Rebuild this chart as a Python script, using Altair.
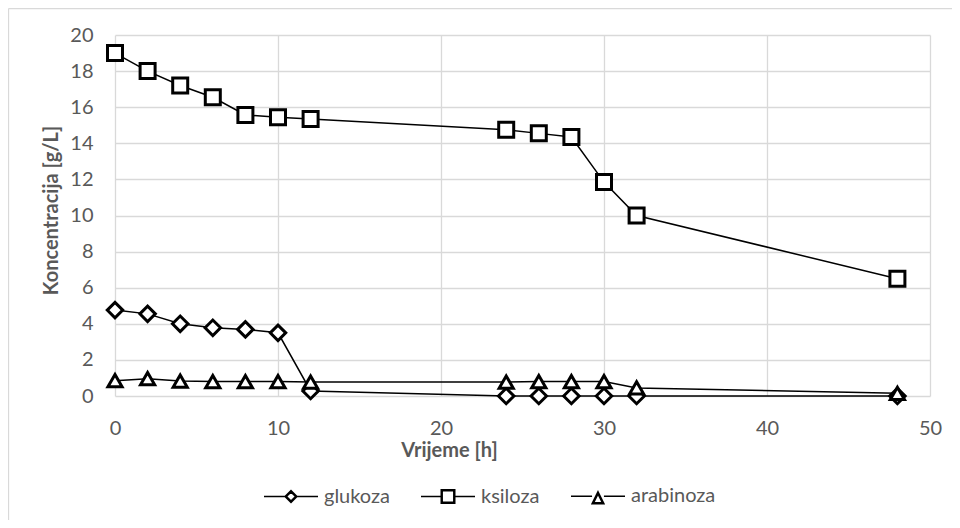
import altair as alt
import pandas as pd

# ---- data ----
vrijeme = [0, 2, 4, 6, 8, 10, 12, 24, 26, 28, 30, 32, 48]
glukoza = [4.76, 4.55, 4.0, 3.78, 3.69, 3.5, 0.28, 0, 0, 0, 0, 0, 0]
ksiloza = [19.0, 18.0, 17.2, 16.55, 15.57, 15.45, 15.35, 14.75, 14.55, 14.35, 11.85, 10.0, 6.5]
arabinoza = [0.85, 0.96, 0.83, 0.8, 0.8, 0.8, 0.77, 0.77, 0.8, 0.8, 0.8, 0.45, 0.15]
serije = ["glukoza", "ksiloza", "arabinoza"]

rows = []
for name, vals in zip(serije, [glukoza, ksiloza, arabinoza]):
    for t, v in zip(vrijeme, vals):
        rows.append({"Vrijeme": t, "Koncentracija": v, "serija": name})
df = pd.DataFrame(rows)

FONT = "Lato"
GRAY = "#595959"
GRID = "#d9d9d9"

x = alt.X("Vrijeme:Q", scale=alt.Scale(domain=[0, 50], nice=False, zero=False),
          axis=alt.Axis(values=[0, 10, 20, 30, 40, 50], title="Vrijeme [h]",
                        labelPadding=22, labelFlush=False,
                        titleX=334, titleY=44, titleBaseline="top"))
y = alt.Y("Koncentracija:Q", scale=alt.Scale(domain=[0, 20], nice=False),
          axis=alt.Axis(values=list(range(0, 21, 2)), title="Koncentracija [g/L]",
                        labelPadding=22, labelFlush=False, titleX=-54, titleY=175))

base = alt.Chart(df)

lines = base.mark_line(color="black", strokeWidth=1.5).encode(
    x=x, y=y, detail="serija:N")

points = base.mark_point(filled=True, fill="white", stroke="black",
                         strokeWidth=3, opacity=1).encode(
    x=x, y=y,
    shape=alt.Shape("serija:N",
                    scale=alt.Scale(domain=serije, range=["diamond", "square", "triangle-up"]),
                    legend=None),
    size=alt.Size("serija:N",
                  scale=alt.Scale(type="ordinal", domain=serije, range=[240, 225, 200]),
                  legend=None),
)

# legend symbols: line segment + marker (double outline for a heavier marker edge)
p_diamond = ("M-1,0H-0.22M0.22,0H1"
             "M-0.22,0L0,-0.22L0.22,0L0,0.22Z"
             "M-0.168,0L0,-0.168L0.168,0L0,0.168Z")
p_square = ("M-1,0H-0.25M0.25,0H1"
            "M-0.25,-0.25H0.25V0.25H-0.25Z"
            "M-0.215,-0.215H0.215V0.215H-0.215Z")
p_tri = ("M-1,0H-0.22M0.22,0H1"
         "M0,-0.17L0.22,0.27L-0.22,0.27Z"
         "M0,-0.087L0.16,0.233L-0.16,0.233Z")

legend_layer = base.mark_point(
    filled=True, fill="white", stroke="black", size=0, opacity=1).encode(
    x=x, y=y,
    shape=alt.Shape("serija:N",
                    scale=alt.Scale(domain=serije, range=[p_diamond, p_square, p_tri]),
                    legend=alt.Legend(title=None, orient="none", legendX=148, legendY=433,
                                      direction="horizontal", symbolSize=2916,
                                      labelFont=FONT, labelFontSize=20, labelColor=GRAY,
                                      columnPadding=28, labelOffset=5, padding=0)),
)

frame = alt.Chart(pd.DataFrame({"k": [0]}))
border_left = frame.mark_rule(color=GRID, strokeWidth=1.3).encode(
    x=alt.value(-106.5), y=alt.value(-26.5), y2=alt.value(600))
border_top = frame.mark_rule(color=GRID, strokeWidth=1.3).encode(
    x=alt.value(-106.5), x2=alt.value(900), y=alt.value(-26.5))

chart = alt.layer(border_left, border_top, lines, legend_layer, points).resolve_scale(
    shape="independent", size="independent"
).properties(
    width=815, height=361,
    padding={"left": 107, "top": 27, "right": 22, "bottom": 124},
    autosize=alt.AutoSizeParams(type="none"),
).configure_view(stroke=None).configure_axis(
    grid=True, gridColor=GRID, gridWidth=1.3, domain=False, ticks=False, tickSize=0,
    labelFont=FONT, labelFontSize=20, labelColor=GRAY,
    titleFont=FONT, titleFontSize=20, titleFontWeight="bold", titleColor=GRAY,
)

chart.save("out.html", embed_options={"renderer": "svg", "actions": False})
